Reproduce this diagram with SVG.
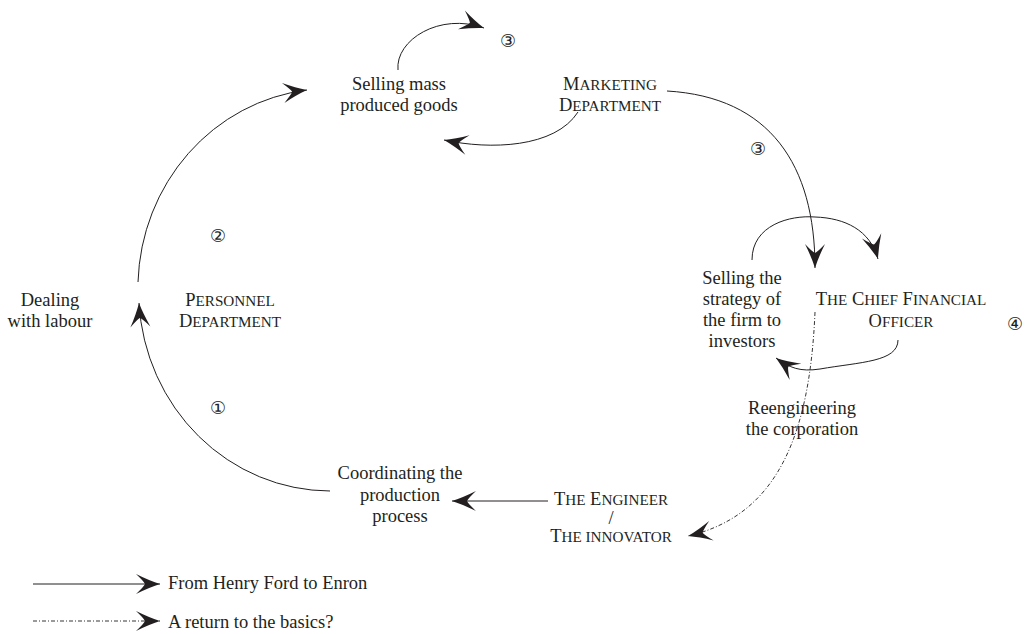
<svg xmlns="http://www.w3.org/2000/svg" width="1033" height="634" viewBox="0 0 1033 634">
<style>
text{font-family:"Liberation Serif","Times New Roman",serif;font-size:18.5px;fill:#231f20;text-anchor:middle}
.sc{font-size:15.2px}
.num{font-family:"DejaVu Sans",sans-serif;font-size:18px;dominant-baseline:central}
.lg{text-anchor:start}
.c{fill:none;stroke:#231f20;stroke-width:1}
.d{fill:none;stroke:#231f20;stroke-width:0.9;stroke-dasharray:4 2 1 2}
</style>
<defs>
<marker id="ah" markerUnits="userSpaceOnUse" markerWidth="30" markerHeight="30" refX="0" refY="0" orient="auto" overflow="visible" viewBox="-25 -12 30 24">
<path d="M0,0 Q-11,-3.5 -24,-10 Q-16,-2.5 -15,0 Q-16,2.5 -24,10 Q-11,3.5 0,0Z" fill="#231f20"/>
</marker>
</defs>
<g id="connectors">
<path class="c" d="M330,491 A192,200 0 0 1 139,303" marker-end="url(#ah)"/>
<path class="c" d="M138,282 A192,200 0 0 1 307,90" marker-end="url(#ah)"/>
<path class="c" d="M398,70 C395,40 440,12 484,28" marker-end="url(#ah)"/>
<path class="c" d="M578,112 C555,148 490,150 444,140" marker-end="url(#ah)"/>
<path class="c" d="M667,91 C770,97 815,165 815,268" marker-end="url(#ah)"/>
<path class="c" d="M752,260 C752,225 790,215 815,217 C845,218 870,230 878,259" marker-end="url(#ah)"/>
<path class="c" d="M898,340 C898,362 860,362 820,369 C800,372 790,368 776,358" marker-end="url(#ah)"/>
<path class="c" d="M548,501 L452,501" marker-end="url(#ah)"/>
<path class="d" d="M815,312 C810,430 780,515 688,536" marker-end="url(#ah)"/>
</g>
<g id="selling-mass"><text x="399" y="90">Selling mass</text><text x="399" y="111">produced goods</text></g>
<g id="marketing"><text x="610" y="90">M<tspan class="sc">ARKETING</tspan></text><text x="610" y="111">D<tspan class="sc">EPARTMENT</tspan></text></g>
<g id="n3a"><text class="num" x="508" y="40">③</text></g>
<g id="n3b"><text class="num" x="758" y="148">③</text></g>
<g id="n2"><text class="num" x="218" y="235">②</text></g>
<g id="n1"><text class="num" x="218" y="407">①</text></g>
<g id="n4"><text class="num" x="1015" y="323">④</text></g>
<g id="dealing"><text x="50" y="306">Dealing</text><text x="50" y="327">with labour</text></g>
<g id="personnel"><text x="230" y="306">P<tspan class="sc">ERSONNEL</tspan></text><text x="230" y="327">D<tspan class="sc">EPARTMENT</tspan></text></g>
<g id="selling-strategy"><text x="742" y="284">Selling the</text><text x="742" y="305">strategy of</text><text x="742" y="326">the firm to</text><text x="742" y="347">investors</text></g>
<g id="cfo"><text x="901" y="305">T<tspan class="sc">HE</tspan> C<tspan class="sc">HIEF</tspan> F<tspan class="sc">INANCIAL</tspan></text><text x="901" y="327">O<tspan class="sc">FFICER</tspan></text></g>
<g id="reengineering"><text x="802" y="414">Reengineering</text><text x="802" y="435">the corporation</text></g>
<g id="coordinating"><text x="400" y="479">Coordinating the</text><text x="400" y="501">production</text><text x="400" y="522">process</text></g>
<g id="engineer"><text x="611" y="505">T<tspan class="sc">HE</tspan> E<tspan class="sc">NGINEER</tspan></text><text x="611" y="524">/</text><text x="611" y="542">T<tspan class="sc">HE INNOVATOR</tspan></text></g>
<g id="legend">
<path class="c" d="M33,584 L160,584" marker-end="url(#ah)"/>
<text class="lg" x="168" y="589">From Henry Ford to Enron</text>
<path class="d" d="M33,621 L160,621" marker-end="url(#ah)"/>
<text class="lg" x="168" y="628">A return to the basics?</text>
</g>
</svg>
